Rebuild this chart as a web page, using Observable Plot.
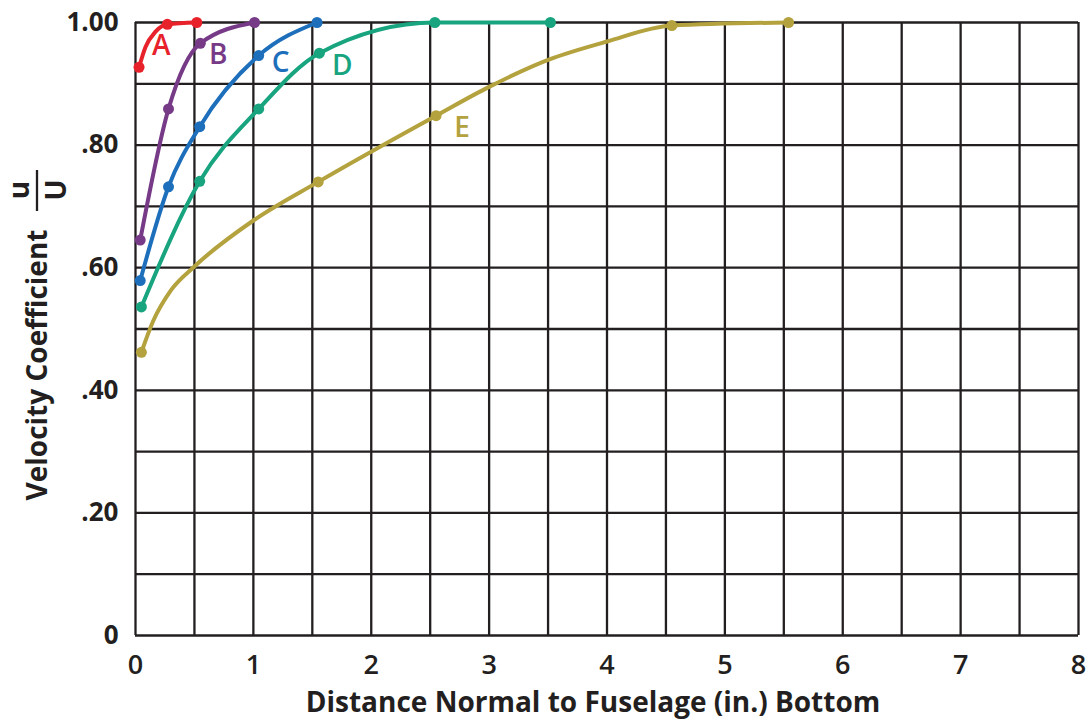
<!DOCTYPE html>
<html><head><meta charset="utf-8">
<script src="https://cdn.jsdelivr.net/npm/d3@7"></script>
<script src="https://cdn.jsdelivr.net/npm/@observablehq/plot@0.6"></script>
<style>
body{margin:0;background:#fff;}
#chart svg{display:block;}
</style>
</head><body><div id="chart"></div>
<script>
// ---- data ----
const seriesNames  = ["A", "B", "C", "D", "E"];
const seriesColors = ["#e8222b", "#773a87", "#1d6fbb", "#17a47f", "#b3a23d"];

// measured points (dots): [distance in., u/U]
const dotsA = [[0.03, 0.927], [0.27, 0.997], [0.52, 1.0]];
const dotsB = [[0.04, 0.645], [0.28, 0.859], [0.55, 0.966], [1.01, 1.0]];
const dotsC = [[0.04, 0.579], [0.28, 0.732], [0.545, 0.83], [1.045, 0.946], [1.54, 1.0]];
const dotsD = [[0.05, 0.536], [0.545, 0.741], [1.045, 0.859], [1.56, 0.95], [2.54, 1.0], [3.52, 1.0]];
const dotsE = [[0.05, 0.462], [1.55, 0.74], [2.55, 0.848], [4.55, 0.995], [5.54, 1.0]];

// extra points (no dot there)
const traceA = [[0.085, 0.96], [0.17, 0.985]];
const traceB = [];
const traceC = [];
const traceD = [];
const traceE = [[0.15, 0.513], [0.3, 0.563], [0.5, 0.602], [1.0, 0.677], [3.0, 0.895], [3.5, 0.939], [4.0, 0.969]];

// axes
const xTicks = [0, 1, 2, 3, 4, 5, 6, 7, 8];
const yTicks = [0, 0.2, 0.4, 0.6, 0.8, 1.0];
const yTickLabels = ["0", ".20", ".40", ".60", ".80", "1.00"];
const xGridValues = [0, 0.5, 1, 1.5, 2, 2.5, 3, 3.5, 4, 4.5, 5, 5.5, 6, 6.5, 7, 7.5, 8];
const yGridValues = [0, 0.1, 0.2, 0.3, 0.4, 0.5, 0.6, 0.7, 0.8, 0.9, 1.0];
const xTitle = "Distance Normal to Fuselage (in.) Bottom";
const yTitle = "Velocity Coefficient";
const yFracTop = "u";
const yFracBottom = "U";

// series label anchors: index of dot each letter sits next to
const labelAnchor = [1, 2, 3, 3, 2];
const labelOffset = [[-6, 22], [18, 12], [22, 7], [23, 13], [26, 12]];

// ---- build tables ----
const allDots = [dotsA, dotsB, dotsC, dotsD, dotsE];
const allTraces = [traceA, traceB, traceC, traceD, traceE];
const dotRows = [], lineRows = [], labelRows = [];
seriesNames.forEach((s, i) => {
  allDots[i].forEach(([x, y]) => dotRows.push({series: s, x, y}));
  [...allDots[i], ...allTraces[i]].sort((a, b) => a[0] - b[0])
    .forEach(([x, y]) => lineRows.push({series: s, x, y}));
  const [ax, ay] = allDots[i][labelAnchor[i]];
  labelRows.push({series: s, x: ax, y: ay, dx: labelOffset[i][0], dy: labelOffset[i][1]});
});

const FONT = "'Open Sans', sans-serif";
const ink = "#231f20";

const chart = Plot.plot({
  width: 1089,
  height: 721,
  marginLeft: 135,
  marginRight: 11,
  marginTop: 22,
  marginBottom: 86,
  style: {fontFamily: FONT, fontSize: "26px", fontWeight: 700, color: ink, background: "#fff"},
  x: {domain: [0, 8]},
  y: {domain: [0, 1]},
  color: {domain: seriesNames, range: seriesColors},
  marks: [
    Plot.gridX(xGridValues, {stroke: ink, strokeOpacity: 1, strokeWidth: 2.3}),
    Plot.gridY(yGridValues, {stroke: ink, strokeOpacity: 1, strokeWidth: 2.3}),
    Plot.axisX(xTicks, {tickSize: 0, tickPadding: 19, label: null, fontSize: 27, fontWeight: 600,
      tickFormat: d => String(d)}),
    Plot.axisY(yTicks, {tickSize: 0, tickPadding: 17, label: null, fontSize: 26, fontWeight: 700,
      tickFormat: d => yTickLabels[yTicks.indexOf(d)]}),
    Plot.line(lineRows, {x: "x", y: "y", z: "series", stroke: "series", strokeWidth: 4, curve: "monotone-x"}),
    Plot.dot(dotRows, {x: "x", y: "y", fill: "series", r: 5.5}),
    ...labelRows.map(r => Plot.text([r], {x: "x", y: "y", text: "series", fill: "series",
      dx: r.dx, dy: r.dy, fontSize: 28, fontWeight: 600}))
  ]
});

const svg = d3.select(chart);
svg.append("text")
  .attr("x", 593).attr("y", 712)
  .attr("text-anchor", "middle")
  .attr("font-family", FONT).attr("font-size", 28).attr("font-weight", 700)
  .attr("fill", ink)
  .text(xTitle);

const yt = svg.append("g").attr("transform", "translate(47,365) rotate(-90)")
  .attr("font-family", FONT).attr("font-weight", 700).attr("fill", ink);
yt.append("text").attr("x", 0).attr("y", 0).attr("text-anchor", "middle")
  .attr("font-size", 28).text(yTitle);
// fraction u/U
yt.append("text").attr("x", 175).attr("y", -18).attr("text-anchor", "middle")
  .attr("font-size", 28).text(yFracTop);
yt.append("line").attr("x1", 154).attr("x2", 195).attr("y1", -10).attr("y2", -10)
  .attr("stroke", ink).attr("stroke-width", 2.3);
yt.append("text").attr("x", 175).attr("y", 19).attr("text-anchor", "middle")
  .attr("font-size", 28).text(yFracBottom);

document.getElementById("chart").appendChild(chart);
</script>
</body></html>
